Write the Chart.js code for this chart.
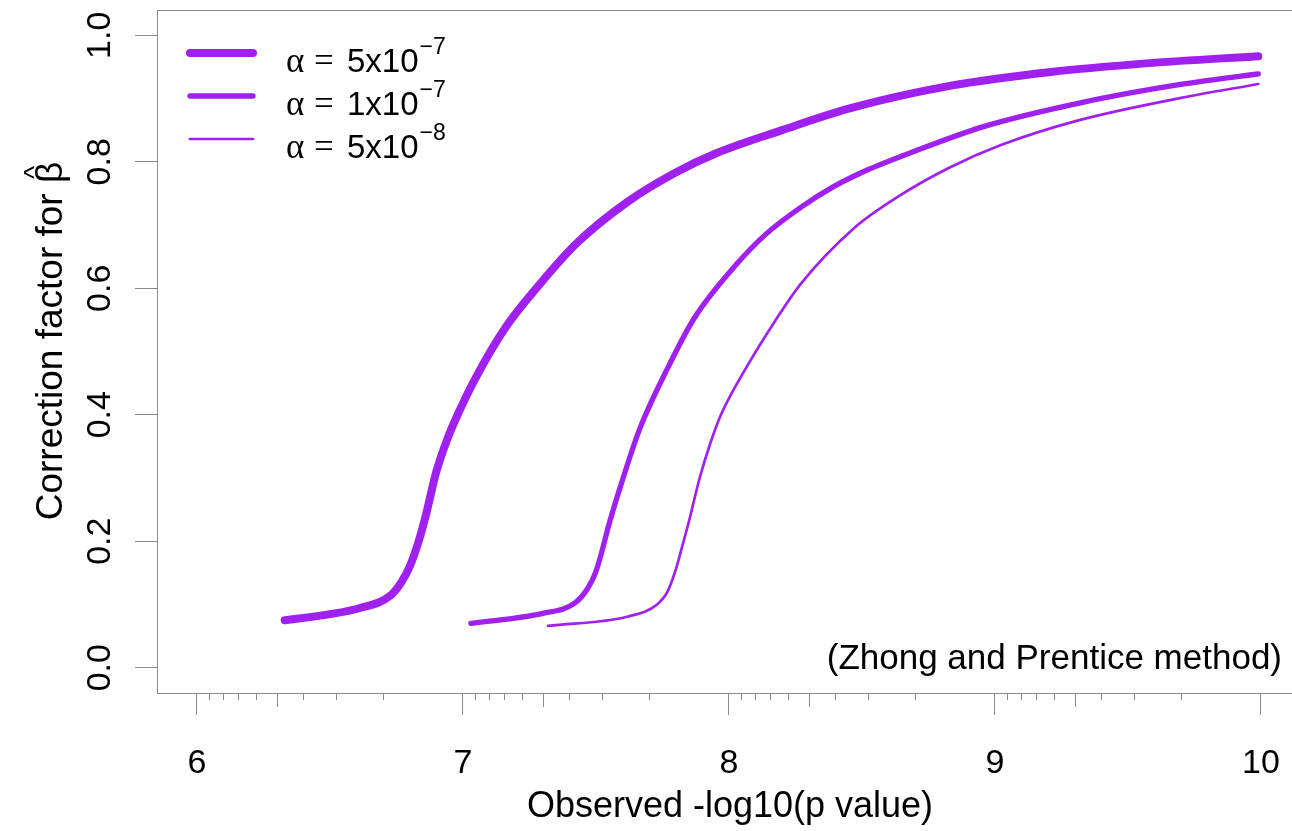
<!DOCTYPE html>
<html>
<head>
<meta charset="utf-8">
<title>Correction factor for beta-hat</title>
<script src="https://cdn.jsdelivr.net/npm/chart.js@4.4.1/dist/chart.umd.min.js"></script>
<style>
  html, body { margin: 0; padding: 0; background: #fff; overflow: hidden; }
</style>
</head>
<body>
<!-- the plot box runs a little past the right edge of the window, as in the original -->
<canvas id="corrChart" width="1305" height="831"></canvas>
<script>
// values: x = observed -log10(p), y = correction factor
const alpha5e7X = [6.33, 6.49, 6.61, 6.73, 6.77, 6.80, 6.83, 6.86, 6.90, 6.94, 6.98, 7.05, 7.16, 7.29, 7.43, 7.62, 7.80, 7.95, 8.20, 8.45, 8.83, 9.21, 9.58, 9.99]
const alpha5e7Y = [0.075, 0.084, 0.094, 0.115, 0.136, 0.160, 0.195, 0.240, 0.310, 0.360, 0.400, 0.460, 0.538, 0.607, 0.672, 0.737, 0.783, 0.813, 0.850, 0.884, 0.920, 0.942, 0.956, 0.967]

const alpha1e7X = [7.03, 7.30, 7.42, 7.47, 7.50, 7.52, 7.55, 7.60, 7.665, 7.77, 7.87, 8.02, 8.14, 8.27, 8.39, 8.52, 8.70, 8.96, 9.33, 9.71, 9.99]
const alpha1e7Y = [0.070, 0.086, 0.102, 0.126, 0.152, 0.180, 0.228, 0.297, 0.378, 0.474, 0.553, 0.634, 0.686, 0.728, 0.760, 0.787, 0.817, 0.856, 0.894, 0.923, 0.939]

const alpha5e8X = [7.32, 7.62, 7.73, 7.77, 7.80, 7.82, 7.85, 7.89, 7.93, 7.97, 8.07, 8.17, 8.27, 8.47, 8.64, 8.83, 9.02, 9.31, 9.70, 9.99]
const alpha5e8Y = [0.066, 0.081, 0.100, 0.121, 0.155, 0.185, 0.232, 0.300, 0.355, 0.400, 0.478, 0.546, 0.607, 0.695, 0.746, 0.791, 0.826, 0.865, 0.901, 0.923]

// legend text: alpha = mantissa x 10^exponent
const alphaMantissa = ['5', '1', '5']
const alphaExponent = ['\u22127', '\u22127', '\u22128']

const xTickValues = [6, 7, 8, 9, 10]
const yTickValues = [0, 0.2, 0.4, 0.6, 0.8, 1.0]

const purple = '#a020f0'
const axisGrey = '#8a8a8a'
const sans = '"Liberation Sans", Arial, Helvetica, sans-serif'
const serif = '"Liberation Serif", "DejaVu Serif", serif'

const toPoints = (xs, ys) => xs.map((x, i) => ({ x: x, y: ys[i] }))

const makeSeries = (xs, ys, width) => ({
  data: toPoints(xs, ys),
  borderColor: purple,
  backgroundColor: purple,
  borderWidth: width,
  borderCapStyle: 'round',
  borderJoinStyle: 'round',
  pointRadius: 0,
  cubicInterpolationMode: 'monotone',
  fill: false
})

// R style frame, log-spaced minor ticks, rotated y labels, legend and note
const rFrame = {
  id: 'rFrame',
  afterDraw(chart) {
    const { ctx, chartArea: a, scales: { x, y } } = chart
    ctx.save()

    ctx.strokeStyle = axisGrey
    ctx.lineWidth = 1
    ctx.strokeRect(Math.round(a.left) + 0.5, Math.round(a.top) + 0.5,
      Math.round(a.right - a.left), Math.round(a.bottom - a.top))

    // minor ticks at -log10(k * 10^-n)
    ctx.beginPath()
    for (let n = 6; n < 10; n++) {
      for (let k = 2; k <= 9; k++) {
        const px = Math.round(x.getPixelForValue(n + 1 - Math.log10(k))) + 0.5
        const len = k === 5 ? 14 : 7
        ctx.moveTo(px, a.bottom)
        ctx.lineTo(px, a.bottom + len)
      }
    }
    ctx.stroke()

    // y tick labels, parallel to the axis
    ctx.fillStyle = '#000'
    ctx.font = `34px ${sans}`
    ctx.textAlign = 'center'
    ctx.textBaseline = 'alphabetic'
    yTickValues.forEach(v => {
      ctx.save()
      ctx.translate(110, y.getPixelForValue(v))
      ctx.rotate(-Math.PI / 2)
      ctx.fillText(v.toFixed(1), 0, 0)
      ctx.restore()
    })

    // y axis title with a hat over beta
    const yTitle = 'Correction factor for \u03b2'
    ctx.save()
    ctx.translate(62, 341)
    ctx.rotate(-Math.PI / 2)
    ctx.font = `37px ${sans}`
    ctx.fillText(yTitle, 0, 0)
    const fullW = ctx.measureText(yTitle).width
    const betaW = ctx.measureText('\u03b2').width
    ctx.font = `28px ${sans}`
    ctx.fillText('^', fullW / 2 - betaW / 2, -19)
    ctx.restore()

    // legend
    chart.data.datasets.forEach((ds, i) => {
      const ly = 53 + 43 * i
      ctx.strokeStyle = ds.borderColor
      ctx.lineWidth = ds.borderWidth
      ctx.lineCap = 'round'
      ctx.beginPath()
      ctx.moveTo(190, ly)
      ctx.lineTo(253, ly)
      ctx.stroke()

      const base = ly + 19
      ctx.fillStyle = '#000'
      ctx.textAlign = 'left'
      ctx.font = `35px ${serif}`
      ctx.fillText('\u03b1', 286, base)
      ctx.fillText('=', 314, base)
      ctx.font = `33px ${sans}`
      const mant = alphaMantissa[i] + 'x10'
      ctx.fillText(mant, 347, base)
      const mw = ctx.measureText(mant).width
      ctx.font = `23px ${sans}`
      ctx.fillText(alphaExponent[i], 347 + mw + 1, ly + 1)
    })

    ctx.font = `35px ${sans}`
    ctx.textAlign = 'right'
    ctx.fillText('(Zhong and Prentice method)', 1282, 669)

    ctx.restore()
  }
}

new Chart(document.getElementById('corrChart'), {
  type: 'line',
  data: {
    datasets: [
      makeSeries(alpha5e7X, alpha5e7Y, 8),
      makeSeries(alpha1e7X, alpha1e7Y, 5.3),
      makeSeries(alpha5e8X, alpha5e8Y, 2.7)
    ]
  },
  options: {
    responsive: false,
    devicePixelRatio: 1,
    animation: false,
    layout: { padding: { left: 0, top: 10, right: 2, bottom: 0 } },
    plugins: {
      legend: { display: false },
      tooltip: { enabled: false }
    },
    scales: {
      x: {
        type: 'linear',
        min: 5.85,
        max: 10.158,
        afterBuildTicks: s => { s.ticks = xTickValues.map(v => ({ value: v })) },
        afterFit: s => {
          s.height = 138
          s.paddingLeft = 0
          s.paddingRight = 0
        },
        border: { display: false },
        grid: { drawOnChartArea: false, tickLength: 22, color: axisGrey, lineWidth: 1 },
        ticks: {
          color: '#000',
          font: { family: sans, size: 34 },
          padding: 28,
          maxRotation: 0,
          autoSkip: false,
          callback: v => String(v)
        },
        title: {
          display: true,
          text: 'Observed -log10(p value)',
          color: '#000',
          font: { family: sans, size: 36 },
          padding: { top: 0, bottom: 2 }
        }
      },
      y: {
        type: 'linear',
        min: -0.04,
        max: 1.04,
        afterBuildTicks: s => { s.ticks = yTickValues.map(v => ({ value: v })) },
        afterFit: s => {
          s.width = 157
          s.paddingTop = 0
          s.paddingBottom = 0
        },
        border: { display: false },
        grid: { drawOnChartArea: false, tickLength: 22, color: axisGrey, lineWidth: 1 },
        ticks: { display: false }
      }
    }
  },
  plugins: [rFrame]
})
</script>
</body>
</html>
